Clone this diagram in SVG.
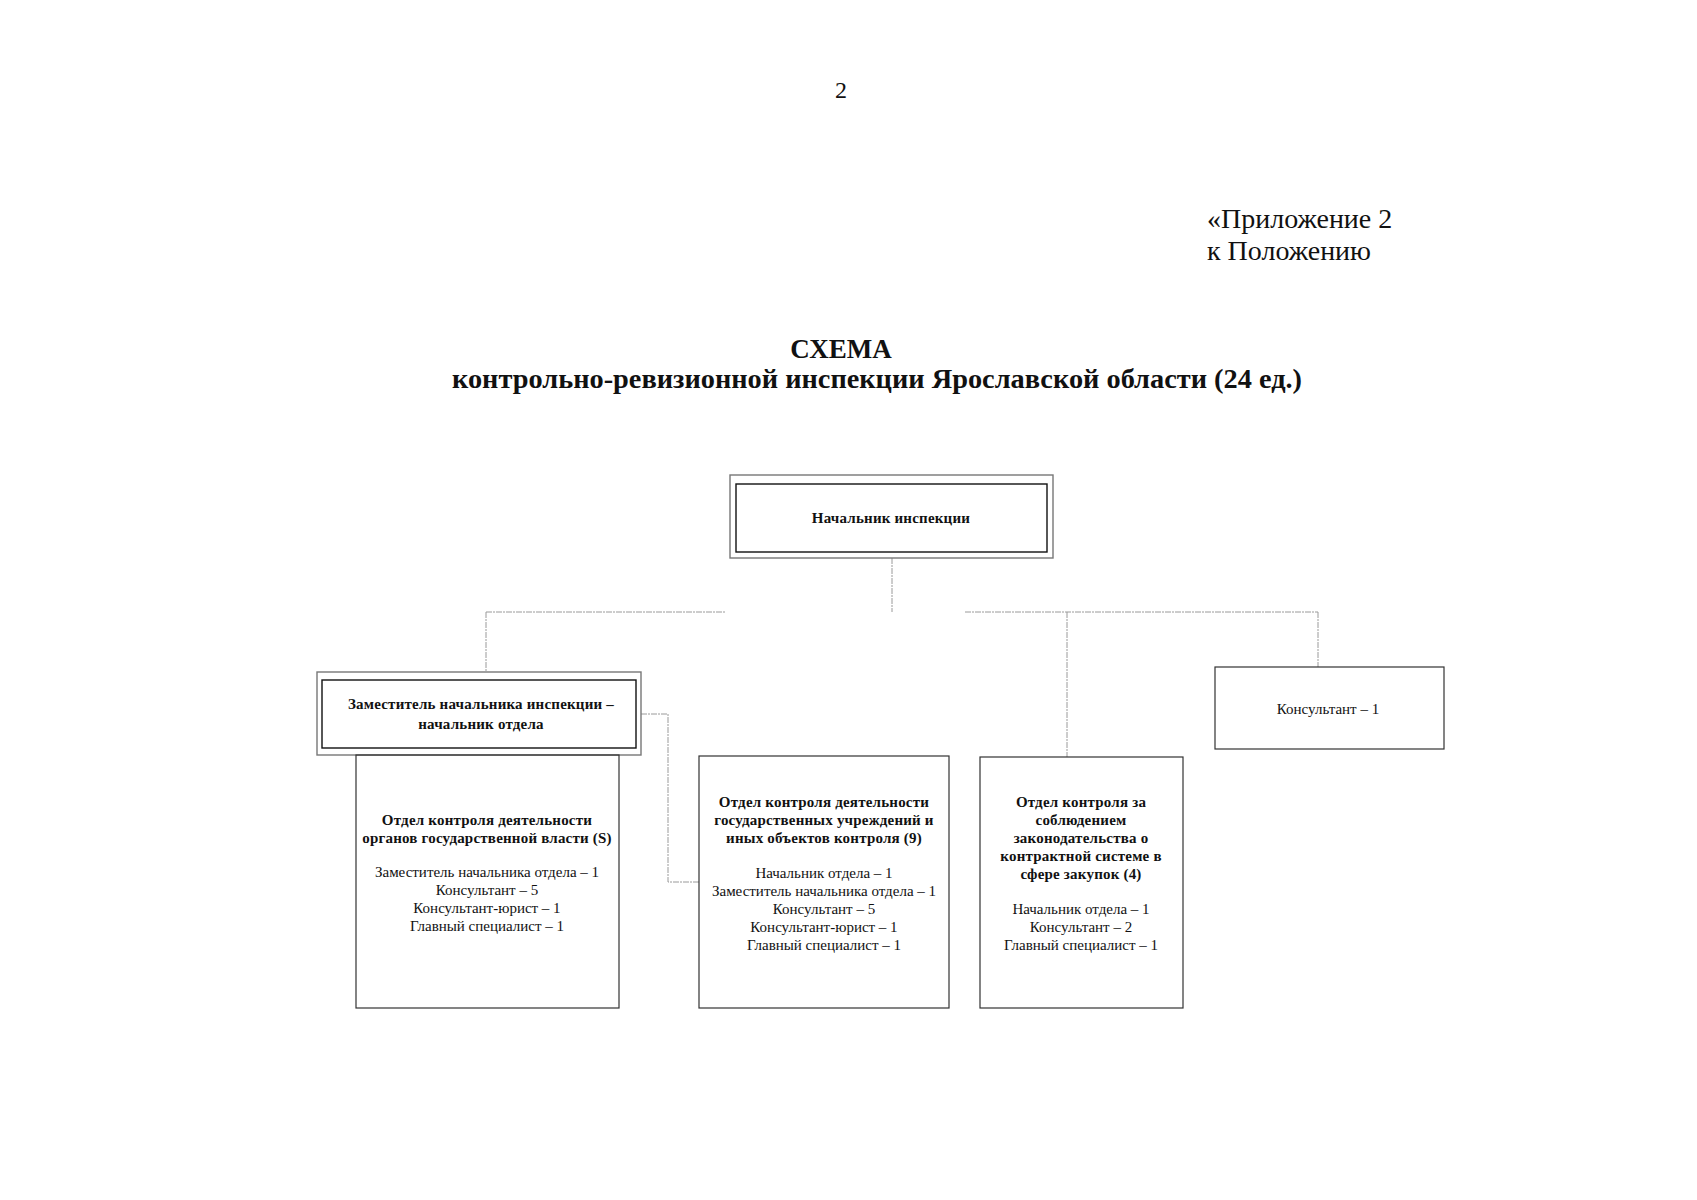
<svg xmlns="http://www.w3.org/2000/svg" width="1697" height="1200" viewBox="0 0 1697 1200">
<style>
text{font-family:"Liberation Serif","Times New Roman",serif;fill:#111}
.b{font-weight:bold;font-size:15px;text-anchor:middle;letter-spacing:0.2px}
.r{font-size:15px;text-anchor:middle}
.box{fill:none;stroke:#333;stroke-width:1.2}
.outer{fill:none;stroke:#777;stroke-width:1.4}
.inner{fill:none;stroke:#111;stroke-width:1.4}
.con{fill:none;stroke:#9a9a9a;stroke-width:1;stroke-dasharray:6 1 2 1}
</style>
<rect width="1697" height="1200" fill="#fff"/>
<text x="841" y="98" font-size="24" text-anchor="middle">2</text>
<text x="1207" y="228" font-size="28">«Приложение 2</text>
<text x="1207" y="260" font-size="28">к Положению</text>
<text x="841" y="358" font-size="27" font-weight="bold" text-anchor="middle">СХЕМА</text>
<text x="452" y="388" font-size="27" font-weight="bold" textLength="850" lengthAdjust="spacingAndGlyphs">контрольно-ревизионной инспекции Ярославской области (24 ед.)</text>
<g id="connectors">
<path class="con" d="M892 558V612"/>
<path class="con" d="M486 612H725"/>
<path class="con" d="M965 612H1318"/>
<path class="con" d="M486 612V672"/>
<path class="con" d="M1067 612V757"/>
<path class="con" d="M1318 612V667"/>
<path class="con" d="M641 714H668V882H699"/>
</g>
<g id="head">
<rect class="outer" x="730" y="475" width="323" height="83"/>
<rect class="inner" x="736" y="484" width="311" height="68"/>
<text class="b" x="891" y="523">Начальник инспекции</text>
</g>
<g id="deputy">
<rect class="outer" x="317" y="672" width="324" height="83"/>
<rect class="inner" x="322" y="680" width="314" height="68"/>
<text class="b" x="481" y="709">Заместитель начальника инспекции –</text>
<text class="b" x="481" y="729">начальник отдела</text>
</g>
<g id="dept1">
<rect class="box" x="356" y="755" width="263" height="253"/>
<text class="b" x="487" y="825">Отдел контроля деятельности</text>
<text class="b" x="487" y="843">органов государственной власти (S)</text>
<text class="r" x="487" y="877">Заместитель начальника отдела – 1</text>
<text class="r" x="487" y="895">Консультант – 5</text>
<text class="r" x="487" y="913">Консультант-юрист – 1</text>
<text class="r" x="487" y="931">Главный специалист – 1</text>
</g>
<g id="dept2">
<rect class="box" x="699" y="756" width="250" height="252"/>
<text class="b" x="824" y="807">Отдел контроля деятельности</text>
<text class="b" x="824" y="825">государственных учреждений и</text>
<text class="b" x="824" y="843">иных объектов контроля (9)</text>
<text class="r" x="824" y="878">Начальник отдела – 1</text>
<text class="r" x="824" y="896">Заместитель начальника отдела – 1</text>
<text class="r" x="824" y="914">Консультант – 5</text>
<text class="r" x="824" y="932">Консультант-юрист – 1</text>
<text class="r" x="824" y="950">Главный специалист – 1</text>
</g>
<g id="dept3">
<rect class="box" x="980" y="757" width="203" height="251"/>
<text class="b" x="1081" y="807">Отдел контроля за</text>
<text class="b" x="1081" y="825">соблюдением</text>
<text class="b" x="1081" y="843">законодательства о</text>
<text class="b" x="1081" y="861">контрактной системе в</text>
<text class="b" x="1081" y="879">сфере закупок (4)</text>
<text class="r" x="1081" y="914">Начальник отдела – 1</text>
<text class="r" x="1081" y="932">Консультант – 2</text>
<text class="r" x="1081" y="950">Главный специалист – 1</text>
</g>
<g id="consultant">
<rect class="box" x="1215" y="667" width="229" height="82"/>
<text class="r" x="1328" y="714">Консультант – 1</text>
</g>
</svg>
